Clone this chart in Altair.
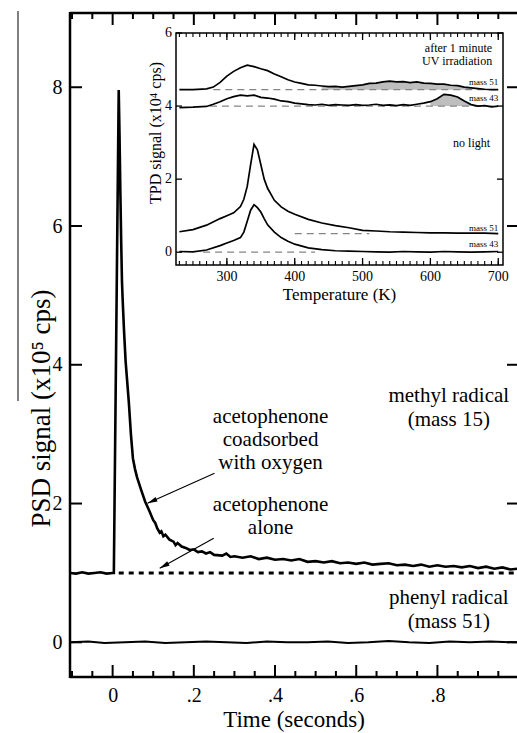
import altair as alt
import pandas as pd

FONT = "Liberation Serif"

# ---------------- main panel data ----------------
coad_t = [-0.105, -0.09, -0.075, -0.06, -0.045, -0.03, -0.015, 0.0, 0.003, 0.015,
          0.017, 0.019, 0.021, 0.023, 0.025, 0.028, 0.032, 0.036, 0.04, 0.045,
          0.05, 0.055, 0.06, 0.07, 0.08, 0.09, 0.1, 0.105, 0.11, 0.116,
          0.12, 0.125, 0.13, 0.14, 0.15, 0.155, 0.16, 0.17, 0.18, 0.19,
          0.2, 0.21, 0.22, 0.23, 0.24, 0.25, 0.27, 0.28, 0.29, 0.3,
          0.32, 0.34, 0.36, 0.38, 0.4, 0.42, 0.44, 0.46, 0.48, 0.5,
          0.52, 0.54, 0.56, 0.58, 0.6, 0.62, 0.64, 0.66, 0.68, 0.7,
          0.72, 0.74, 0.76, 0.78, 0.8, 0.82, 0.84, 0.86, 0.88, 0.9,
          0.92, 0.94, 0.96, 0.98, 0.996]
coad_v = [1.00, 0.99, 1.01, 0.99, 1.00, 1.01, 0.99, 1.00, 1.00, 7.96,
          7.30, 6.50, 5.80, 5.20, 4.90, 4.50, 4.05, 3.75, 3.45, 3.00,
          2.65, 2.50, 2.38, 2.20, 2.03, 1.90, 1.76, 1.72, 1.64, 1.58,
          1.60, 1.53, 1.55, 1.48, 1.45, 1.40, 1.43, 1.38, 1.36, 1.33,
          1.34, 1.30, 1.31, 1.28, 1.30, 1.26, 1.25, 1.28, 1.23, 1.24,
          1.22, 1.24, 1.20, 1.22, 1.19, 1.20, 1.18, 1.20, 1.16, 1.17,
          1.15, 1.17, 1.14, 1.15, 1.13, 1.15, 1.12, 1.13, 1.14, 1.11,
          1.12, 1.10, 1.12, 1.09, 1.11, 1.09, 1.10, 1.08, 1.10, 1.07,
          1.09, 1.06, 1.08, 1.05, 1.06]

alone_t = [0.015, 0.996]
alone_v = [1.0, 1.0]

phenyl_t = [-0.105, -0.06, -0.02, 0.03, 0.08, 0.13, 0.18, 0.23, 0.28, 0.33, 0.38, 0.43,
            0.48, 0.53, 0.58, 0.63, 0.68, 0.73, 0.78, 0.83, 0.88, 0.93, 0.996]
phenyl_v = [0.0, 0.01, -0.01, 0.0, 0.01, -0.01, 0.0, 0.01, 0.0, -0.01, 0.01, 0.0,
            0.0, 0.01, -0.01, 0.0, 0.02, 0.0, -0.01, 0.01, 0.0, 0.01, 0.0]

x_major = [0, 0.2, 0.4, 0.6, 0.8]
x_minor = [-0.1, -0.05, 0.05, 0.1, 0.15, 0.25, 0.3, 0.35, 0.45, 0.5, 0.55,
           0.65, 0.7, 0.75, 0.85, 0.9, 0.95]
y_major = [0, 2, 4, 6, 8]

ann_text = ["acetophenone", "coadsorbed", "with oxygen", "acetophenone", "alone",
            "methyl radical", "(mass 15)", "phenyl radical", "(mass 51)"]
ann_t = [0.389, 0.389, 0.389, 0.389, 0.389, 0.828, 0.828, 0.828, 0.828]
ann_v = [3.243, 2.912, 2.580, 1.975, 1.643, 3.55, 3.20, 0.634, 0.288]

arrow_t = [0.251, 0.249]
arrow_v = [2.436, 1.499]
arrow_t2 = [0.086, 0.116]
arrow_v2 = [2.004, 1.067]
arrow_ang = [246, 241]

# ---------------- inset data ----------------
uv_K = [230, 250, 270, 280, 290, 300, 310, 320, 330, 340, 350, 360, 370, 380, 390,
        400, 410, 420, 430, 440, 450, 460, 470, 480, 490, 500, 510, 520, 530, 540,
        550, 560, 570, 580, 590, 600, 610, 620, 630, 640, 650, 660, 670, 680, 690, 700]
m51_uv = [4.45, 4.45, 4.47, 4.52, 4.65, 4.82, 4.95, 5.05, 5.12, 5.08, 5.02, 4.97, 4.88, 4.80, 4.72,
          4.66, 4.62, 4.58, 4.57, 4.55, 4.53, 4.54, 4.52, 4.54, 4.56, 4.58, 4.62, 4.63, 4.66, 4.68,
          4.66, 4.67, 4.64, 4.66, 4.63, 4.62, 4.60, 4.60, 4.57, 4.56, 4.52, 4.50, 4.48, 4.46, 4.45, 4.45]
m43_uv = [3.96, 3.97, 3.99, 4.05, 4.12, 4.20, 4.26, 4.30, 4.28, 4.30, 4.24, 4.22, 4.19, 4.14, 4.12,
          4.08, 4.06, 4.04, 4.03, 4.05, 4.02, 4.04, 4.03, 4.02, 4.04, 4.02, 4.03, 4.05, 4.02, 4.03,
          4.01, 4.04, 4.02, 4.05, 4.08, 4.12, 4.20, 4.32, 4.30, 4.25, 4.14, 4.04, 4.00, 4.01, 3.98, 4.00]

nl_K = [230, 250, 270, 290, 300, 310, 320, 325, 330, 335, 340, 345, 350, 355, 360, 370, 380,
        390, 400, 420, 440, 460, 480, 500, 520, 540, 560, 580, 600, 620, 640, 660, 680, 700]
m51_nl = [0.56, 0.62, 0.74, 0.92, 1.00, 1.08, 1.25, 1.45, 1.80, 2.40, 2.95, 2.80, 2.40, 2.00, 1.75,
          1.42, 1.24, 1.12, 1.04, 0.90, 0.80, 0.73, 0.67, 0.60, 0.58, 0.56, 0.55, 0.54, 0.53, 0.53,
          0.52, 0.52, 0.52, 0.51]
m43_nl = [0.02, 0.01, 0.06, 0.18, 0.25, 0.32, 0.40, 0.55, 0.85, 1.15, 1.30, 1.22, 1.10, 0.92, 0.75,
          0.55, 0.40, 0.30, 0.22, 0.12, 0.07, 0.04, 0.03, 0.02, 0.01, 0.00, 0.02, 0.01, 0.00, 0.02,
          0.01, 0.00, 0.01, 0.02]

base_level = [4.45, 4.0, 0.51, 0.0]
base_from = [280, 275, 400, 265]
base_to = [700, 700, 510, 430]

ins_x_labels = [300, 400, 500, 600, 700]
ins_y_labels = [0, 2, 4, 6]
ins_x_minor = list(range(230, 701, 10))

ins_ann_big = ["after 1 minute", "UV irradiation", "no light"]
ins_ann_big_K = [691, 691, 688]
ins_ann_big_s = [5.59, 5.23, 2.99]
ins_ann_small = ["mass 51", "mass 43", "mass 51", "mass 43"]
ins_ann_small_K = [700, 700, 700, 700]
ins_ann_small_s = [4.66, 4.22, 0.66, 0.22]

# ---------------- geometry / scales ----------------
W, H = 447, 664
IX0, IX1, IY0, IY1 = 106, 433, 20, 252

main_x = alt.Scale(domain=[-0.105, 0.996], nice=False, zero=False)
main_y = alt.Scale(domain=[-0.5, 9.07], nice=False, zero=False)
ins_x = alt.Scale(domain=[225, 707], range=[IX0, IX1], nice=False, zero=False)
ins_y = alt.Scale(domain=[-0.35, 6.0], range=[IY1, IY0], nice=False, zero=False)

xaxis = alt.Axis(values=x_major, ticks=False, tickSize=0, domain=False, grid=False,
                 labelExpr="datum.value == 0 ? '0' : replace(format(datum.value, '.1f'), '0.', '.')",
                 labelFont=FONT, labelFontSize=20, labelColor="black", labelPadding=8,
                 labelFlush=False, title="Time (seconds)", titleFont=FONT, titleFontSize=23,
                 titleFontWeight="normal", titleColor="black", titleY=42, titleBaseline="middle")
yaxis = alt.Axis(values=y_major, ticks=False, tickSize=0, domain=False, grid=False,
                 labelFont=FONT, labelFontSize=20, labelColor="black", labelPadding=8,
                 labelFlush=False, title="PSD signal (x10\u2075 cps)", titleFont=FONT,
                 titleFontSize=27, titleFontWeight="normal", titleColor="black",
                 titleAngle=270, titleX=-29, titleY=395, titleAlign="center",
                 titleBaseline="middle")


def MX(f):
    return alt.X(f, type="quantitative", scale=main_x, axis=xaxis)


def MY(f):
    return alt.Y(f, type="quantitative", scale=main_y, axis=yaxis)


def IXf(f):
    return alt.X(f, type="quantitative", scale=ins_x, axis=None)


def IYf(f):
    return alt.Y(f, type="quantitative", scale=ins_y, axis=None)


dummy = pd.DataFrame({"d": [0]})
blk = "black"

# ---------------- main layers ----------------
frame = [
    alt.Chart(dummy).mark_rule(color=blk, strokeWidth=2.5).encode(
        x=alt.value(0), y=alt.value(-1), y2=alt.value(H + 1)),
    alt.Chart(dummy).mark_rule(color=blk, strokeWidth=2.5).encode(
        y=alt.value(0), x=alt.value(0), x2=alt.value(W)),
    alt.Chart(dummy).mark_rule(color=blk, strokeWidth=2.5).encode(
        y=alt.value(H), x=alt.value(0), x2=alt.value(W)),
    alt.Chart(dummy).mark_rule(color=blk, strokeWidth=1).encode(
        x=alt.value(-52), y=alt.value(-2), y2=alt.value(388)),
]
dfxM = pd.DataFrame({"t": x_major})
dfxm = pd.DataFrame({"t": x_minor})
dfyM = pd.DataFrame({"v": y_major})
ticks = [
    alt.Chart(dfxM).mark_rule(color=blk, strokeWidth=2).encode(x=MX("t"), y=alt.value(H), y2=alt.value(H - 12)),
    alt.Chart(dfxm).mark_rule(color=blk, strokeWidth=2).encode(x=MX("t"), y=alt.value(H), y2=alt.value(H - 6)),
    alt.Chart(dfxM).mark_rule(color=blk, strokeWidth=2).encode(x=MX("t"), y=alt.value(0), y2=alt.value(12)),
    alt.Chart(dfxm).mark_rule(color=blk, strokeWidth=2).encode(x=MX("t"), y=alt.value(0), y2=alt.value(6)),
    alt.Chart(dfyM).mark_rule(color=blk, strokeWidth=2).encode(y=MY("v"), x=alt.value(0), x2=alt.value(12)),
    alt.Chart(dfyM).mark_rule(color=blk, strokeWidth=2).encode(y=MY("v"), x=alt.value(W + 2), x2=alt.value(W - 10)),
]

df_coad = pd.DataFrame({"t": coad_t, "v": coad_v})
df_alone = pd.DataFrame({"t": alone_t, "v": alone_v})
df_ph = pd.DataFrame({"t": phenyl_t, "v": phenyl_v})
curves = [
    alt.Chart(df_ph).mark_line(color=blk, strokeWidth=2).encode(x=MX("t"), y=MY("v")),
    alt.Chart(df_alone).mark_line(color=blk, strokeWidth=3, strokeDash=[5, 5]).encode(x=MX("t"), y=MY("v")),
    alt.Chart(df_coad).mark_line(color=blk, strokeWidth=2.6).encode(x=MX("t"), y=MY("v")),
]

df_ann = pd.DataFrame({"t": ann_t, "v": ann_v, "label": ann_text})
df_arr = pd.DataFrame({"t": arrow_t, "v": arrow_v, "t2": arrow_t2, "v2": arrow_v2, "ang": arrow_ang})
texts = [
    alt.Chart(df_ann).mark_text(font=FONT, fontSize=21, color=blk, align="center", baseline="middle").encode(
        x=MX("t"), y=MY("v"), text="label:N"),
    alt.Chart(df_arr).mark_rule(color=blk, strokeWidth=1.1).encode(x=MX("t"), x2="t2:Q", y=MY("v"), y2="v2:Q"),
    alt.Chart(df_arr).mark_point(shape="M0,0L0.45,1.8L-0.45,1.8Z", filled=True, color=blk, opacity=1,
                                 size=120, strokeWidth=0).encode(
        x=MX("t2"), y=MY("v2"), angle=alt.Angle("ang:Q", scale=None)),
]

main = alt.layer(*(frame + ticks + curves + texts))

# ---------------- inset layers ----------------
box = alt.Chart(dummy).mark_rect(fill="white", stroke=blk, strokeWidth=1.5).encode(
    x=alt.value(IX0), x2=alt.value(IX1), y=alt.value(IY0), y2=alt.value(IY1))

dfKM = pd.DataFrame({"K": ins_x_labels})
dfKm = pd.DataFrame({"K": ins_x_minor})
dfsM = pd.DataFrame({"s": ins_y_labels})
ins_ticks = [
    alt.Chart(dfKM).mark_rule(color=blk, strokeWidth=1.3).encode(x=IXf("K"), y=alt.value(IY1), y2=alt.value(IY1 - 7)),
    alt.Chart(dfKm).mark_rule(color=blk, strokeWidth=1.1).encode(x=IXf("K"), y=alt.value(IY1), y2=alt.value(IY1 - 4)),
    alt.Chart(dfKM).mark_rule(color=blk, strokeWidth=1.3).encode(x=IXf("K"), y=alt.value(IY0), y2=alt.value(IY0 + 7)),
    alt.Chart(dfKm).mark_rule(color=blk, strokeWidth=1.1).encode(x=IXf("K"), y=alt.value(IY0), y2=alt.value(IY0 + 4)),
    alt.Chart(dfsM).mark_rule(color=blk, strokeWidth=1.3).encode(y=IYf("s"), x=alt.value(IX0), x2=alt.value(IX0 + 6)),
    alt.Chart(dfsM).mark_rule(color=blk, strokeWidth=1.3).encode(y=IYf("s"), x=alt.value(IX1), x2=alt.value(IX1 - 6)),
    alt.Chart(dfKM).mark_text(font=FONT, fontSize=14, color=blk, align="center", baseline="middle").encode(
        x=IXf("K"), y=alt.value(IY1 + 12), text=alt.Text("K:Q", format="d")),
    alt.Chart(dfsM).mark_text(font=FONT, fontSize=14, color=blk, align="right", baseline="middle").encode(
        y=IYf("s"), x=alt.value(IX0 - 4), text=alt.Text("s:Q", format="d")),
    alt.Chart(pd.DataFrame({"label": ["Temperature (K)"]})).mark_text(
        font=FONT, fontSize=17, color=blk, align="center", baseline="middle").encode(
        x=alt.value((IX0 + IX1) / 2), y=alt.value(IY1 + 30), text="label:N"),
    alt.Chart(pd.DataFrame({"label": ["TPD signal (x10\u2074 cps)"]})).mark_text(
        font=FONT, fontSize=16, color=blk, align="center", baseline="middle", angle=270).encode(
        x=alt.value(IX0 - 20), y=alt.value(120), text="label:N"),
]

df_uv = pd.DataFrame({"K": uv_K, "m51": m51_uv, "m43": m43_uv})
shade = [
    alt.Chart(df_uv).transform_filter((alt.datum.K >= 440) & (alt.datum.K <= 660)).transform_calculate(
        b="4.45").mark_area(color="#a8a8a8", opacity=0.75).encode(x=IXf("K"), y=IYf("m51"), y2="b:Q"),
    alt.Chart(df_uv).transform_filter((alt.datum.K >= 600) & (alt.datum.K <= 660)).transform_calculate(
        b="4.0").mark_area(color="#a8a8a8", opacity=0.75).encode(x=IXf("K"), y=IYf("m43"), y2="b:Q"),
]
df_base = pd.DataFrame({"K1": base_from, "K2": base_to, "s": base_level})
dashes = alt.Chart(df_base).mark_rule(color="#858585", strokeWidth=1.3, strokeDash=[7, 5]).encode(
    x=IXf("K1"), x2="K2:Q", y=IYf("s"))

rows = []
for k, a, b in zip(uv_K, m51_uv, m43_uv):
    rows.append({"K": k, "s": a, "series": "uv51"})
    rows.append({"K": k, "s": b, "series": "uv43"})
for k, a, b in zip(nl_K, m51_nl, m43_nl):
    rows.append({"K": k, "s": a, "series": "nl51"})
    rows.append({"K": k, "s": b, "series": "nl43"})
df_ins = pd.DataFrame(rows)
ins_lines = alt.Chart(df_ins).mark_line(color=blk, strokeWidth=1.7).encode(
    x=IXf("K"), y=IYf("s"), detail="series:N")

df_big = pd.DataFrame({"K": ins_ann_big_K, "s": ins_ann_big_s, "label": ins_ann_big})
df_small = pd.DataFrame({"K": ins_ann_small_K, "s": ins_ann_small_s, "label": ins_ann_small})
ins_texts = [
    alt.Chart(df_big).mark_text(font=FONT, fontSize=12, color=blk, align="right", baseline="middle").encode(
        x=IXf("K"), y=IYf("s"), text="label:N"),
    alt.Chart(df_small).mark_text(font=FONT, fontSize=9, color=blk, align="right", baseline="middle").encode(
        x=IXf("K"), y=IYf("s"), text="label:N"),
]

inset = alt.layer(*([box] + shade + [dashes, ins_lines] + ins_ticks + ins_texts))

chart = alt.layer(main, inset).resolve_scale(x="independent", y="independent").properties(
    width=W, height=H,
    padding={"left": 70, "top": 13, "right": 0, "bottom": 56},
    autosize=alt.AutoSizeParams(type="none"),
    background="white",
).configure_view(stroke=None)

chart.save("out.html", embed_options={"renderer": "svg", "actions": False})
